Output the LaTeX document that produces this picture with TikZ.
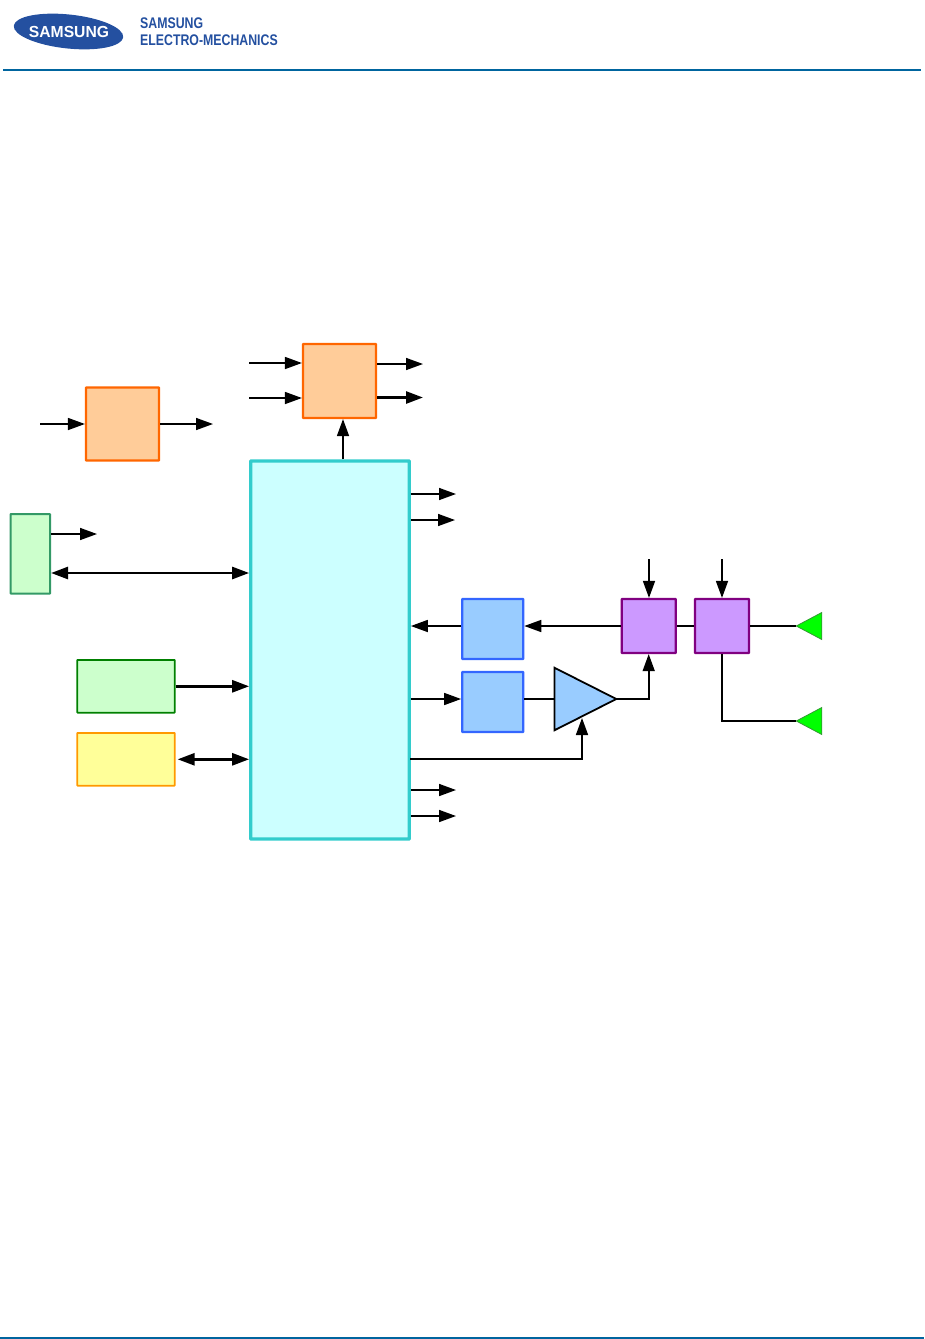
\documentclass[tikz,border=0pt]{standalone}
\usepackage{fontspec}
\setmainfont{Liberation Sans}
\usetikzlibrary{arrows.meta,shapes.geometric}
\definecolor{rule}{HTML}{00659F}
\definecolor{brand}{HTML}{2450A0}
\tikzset{
  sig/.style={draw=black,line width=1.6pt,-{Triangle[length=17pt,width=12pt]}},
  wire/.style={draw=black,line width=1.6pt},
  bus/.style={sig,line width=2.6pt},
  dbus/.style={bus,{Triangle[length=17pt,width=12pt]}-{Triangle[length=17pt,width=12pt]}},
  blockbox/.style={rectangle,inner sep=0pt,rounded corners=0.5pt,line width=2.2pt},
  orangebox/.style={blockbox,draw={rgb,255:red,255;green,102;blue,0},fill={rgb,255:red,255;green,204;blue,153},minimum width=73pt,minimum height=73pt},
  bluebox/.style={blockbox,draw={rgb,255:red,51;green,102;blue,255},fill={rgb,255:red,153;green,204;blue,255},minimum width=61pt,minimum height=60pt},
  purplebox/.style={blockbox,draw={rgb,255:red,128;green,0;blue,128},fill={rgb,255:red,204;green,153;blue,255},minimum width=54pt,minimum height=54pt},
  antenna/.style={isosceles triangle,isosceles triangle stretches,shape border rotate=180,inner sep=0pt,outer sep=0pt,minimum width=27pt,minimum height=25.5pt,draw={rgb,255:red,51;green,153;blue,51},line width=0.8pt,fill={rgb,255:red,0;green,255;blue,0},anchor=apex},
}
\begin{document}
\begin{tikzpicture}[x=1pt,y=-1pt]
  \useasboundingbox (0,0) rectangle (924,1339);
  % header
  \draw[rule,line width=1.8pt] (3,70) -- (921,70);
  \draw[rule,line width=2pt] (0,1338) -- (924,1338);
  \fill[brand] (68.5,31.5) ellipse[x radius=55,y radius=17,rotate=-6];
  \node[white,font=\bfseries\fontsize{16}{16}\selectfont,xscale=0.98,transform shape] (logo) at (69,32) {SAMSUNG};
  \node[brand,anchor=west,inner sep=0pt,font=\bfseries\fontsize{15.4}{16}\selectfont,xscale=0.8,transform shape] (brandA) at (140,23) {SAMSUNG};
  \node[brand,anchor=west,inner sep=0pt,font=\bfseries\fontsize{15.4}{16}\selectfont,xscale=0.8,transform shape] (brandB) at (140,40.5) {ELECTRO-MECHANICS};

  % blocks
  \node[orangebox] (synthA) at (122.5,424) {};
  \node[orangebox,minimum height=74pt] (synthB) at (339.5,381) {};
  \node[blockbox,line width=3.2pt,draw={rgb,255:red,51;green,204;blue,204},fill={rgb,255:red,204;green,255;blue,255},minimum width=158.5pt,minimum height=378pt] (baseband) at (330,650) {};
  \node[blockbox,line width=2pt,draw={rgb,255:red,51;green,153;blue,102},fill={rgb,255:red,204;green,255;blue,204},minimum width=39.5pt,minimum height=79.5pt] (hostA) at (30.3,553.8) {};
  \node[blockbox,line width=1.8pt,draw={rgb,255:red,0;green,128;blue,0},fill={rgb,255:red,204;green,255;blue,204},minimum width=97.5pt,minimum height=52.7pt] (hostB) at (126,686.3) {};
  \node[blockbox,line width=1.8pt,draw={rgb,255:red,255;green,153;blue,0},fill={rgb,255:red,255;green,255;blue,153},minimum width=97.5pt,minimum height=52.7pt] (hostC) at (126,759.3) {};
  \node[bluebox] (adc) at (492.7,629) {};
  \node[bluebox] (dac) at (492.7,702) {};
  \node[purplebox] (mixA) at (648.7,626) {};
  \node[purplebox] (mixB) at (722,626) {};
  \node[isosceles triangle,isosceles triangle stretches,inner sep=0pt,outer sep=0pt,minimum width=62.5pt,minimum height=61.8pt,draw=black,line width=1.8pt,fill={rgb,255:red,153;green,204;blue,255},anchor=apex] (amp) at (616.3,699) {};
  \node[antenna] (antA) at (796.3,626) {};
  \node[antenna] (antB) at (796.3,721) {};

  % free ends
  \coordinate (inA) at (40,424);
  \coordinate (outA) at (213,424);
  \coordinate (inB) at (249,363);
  \coordinate (inC) at (249,398);
  \coordinate (outB) at (423,364);
  \coordinate (outC) at (423,397.5);
  \coordinate (outD) at (456,494);
  \coordinate (outE) at (455,520);
  \coordinate (outF) at (456,790);
  \coordinate (outG) at (456,816);
  \coordinate (outH) at (97,534);
  \coordinate (inD) at (649,559);
  \coordinate (inE) at (722,559);
  \coordinate (busA) at (50,573);
  \coordinate (ctlA) at (410,759);
  \coordinate (ampCtl) at (582,718);

  % connectors
  \draw[sig] (inA) -- (synthA.west);
  \draw[sig] (synthA.east) -- (outA);
  \draw[sig] (inB) -- (inB -| synthB.west);
  \draw[sig] (inC) -- (inC -| synthB.west);
  \draw[sig] (outB -| synthB.east) -- (outB);
  \draw[bus] (outC -| synthB.east) -- (outC);
  \draw[sig] (343,0 |- baseband.north) -- (343,0 |- synthB.south);
  \draw[sig] (outD -| baseband.east) -- (outD);
  \draw[sig] (outE -| baseband.east) -- (outE);
  \draw[sig] (outF -| baseband.east) -- (outF);
  \draw[sig] (outG -| baseband.east) -- (outG);
  \draw[sig] (outH -| hostA.east) -- (outH);
  \draw[dbus] (busA -| hostA.east) -- (busA -| baseband.west);
  \draw[bus] (hostB.east) -- (hostB.east -| baseband.west);
  \draw[dbus] ([xshift=2pt]hostC.east) -- (hostC.east -| baseband.west);
  \draw[sig] (adc.west |- mixA.west) -- (mixA.west -| baseband.east);
  \draw[sig] (mixA.west) -- (mixA.west -| adc.east);
  \draw[sig] (amp.apex -| baseband.east) -- (amp.apex -| dac.west);
  \draw[wire] (amp.apex -| dac.east) -- (amp.apex -| amp.left corner);
  \draw[sig] (amp.apex) -| (mixA.south);
  \draw[sig] (ctlA) -| (ampCtl);
  \draw[sig] (inD) -- (inD |- mixA.north);
  \draw[sig] (inE) -- (mixB.north);
  \draw[wire] (mixA.east) -- (mixB.west);
  \draw[wire] (mixB.east) -- (antA.apex);
  \draw[wire] (mixB.south) |- (antB.apex);
\end{tikzpicture}
\end{document}
